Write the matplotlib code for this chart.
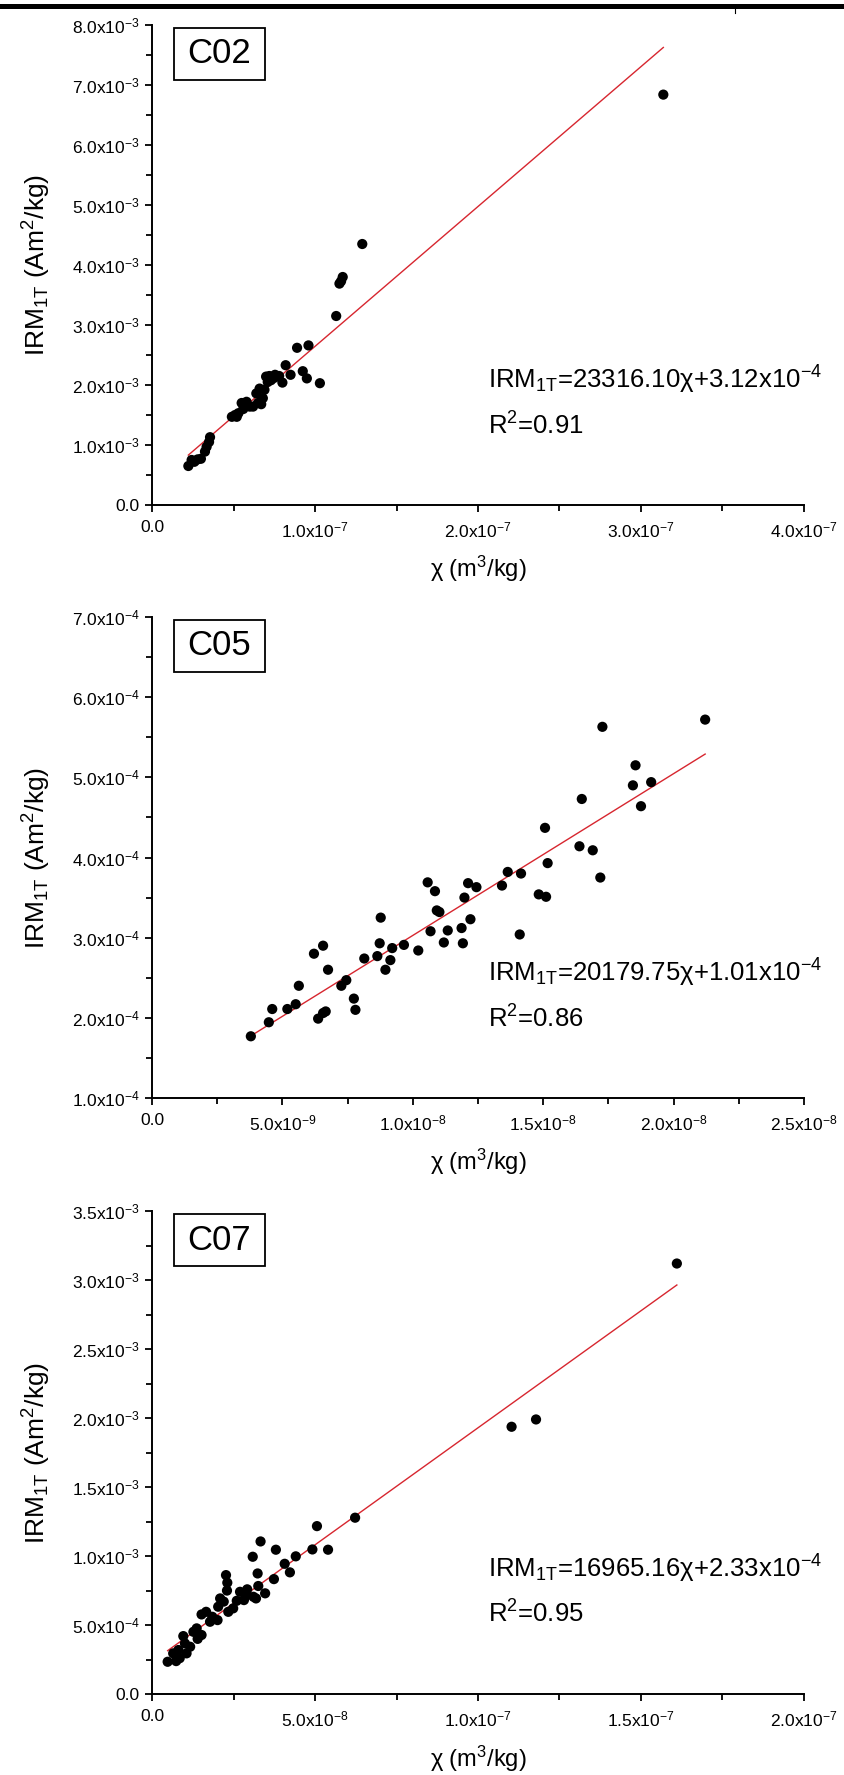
import numpy as np
import matplotlib
matplotlib.use('Agg')
import matplotlib.pyplot as plt
from matplotlib.patches import Rectangle
from matplotlib.lines import Line2D
from matplotlib.ticker import MultipleLocator, FuncFormatter

plt.rcParams['font.family'] = ['Liberation Sans', 'DejaVu Sans']
plt.rcParams['mathtext.default'] = 'regular'

# C02: chi in 1e-7 m3/kg, IRM in 1e-3 Am2/kg
c02_chi = [0.223, 0.243, 0.26, 0.28, 0.30, 0.325, 0.335, 0.35, 0.356, 0.49, 0.51, 0.52,
           0.53, 0.55, 0.56, 0.57, 0.58, 0.60, 0.62, 0.65, 0.64, 0.66, 0.67, 0.68, 0.69,
           0.70, 0.71, 0.72, 0.73, 0.75, 0.755, 0.78, 0.80, 0.82, 0.85, 0.89, 0.96, 0.925,
           0.95, 1.03, 1.13, 1.15, 1.16, 1.17, 1.29, 3.137]
c02_irm = [0.65, 0.75, 0.72, 0.76, 0.77, 0.89, 0.97, 1.05, 1.13, 1.47, 1.50, 1.47,
           1.53, 1.70, 1.60, 1.68, 1.72, 1.64, 1.64, 1.70, 1.86, 1.94, 1.68, 1.78, 1.92,
           2.14, 2.05, 2.15, 2.08, 2.12, 2.17, 2.15, 2.04, 2.33, 2.17, 2.62, 2.66, 2.23,
           2.11, 2.03, 3.15, 3.69, 3.73, 3.80, 4.35, 6.84]

# C05: chi in 1e-8 m3/kg, IRM in 1e-4 Am2/kg
c05_chi = [0.379, 0.448, 0.461, 0.519, 0.551, 0.563, 0.637, 0.656, 0.666, 0.621, 0.656,
           0.675, 0.726, 0.745, 0.774, 0.780, 0.814, 0.864, 0.873, 0.877, 0.895, 0.914,
           0.921, 0.966, 1.021, 1.057, 1.085, 1.068, 1.092, 1.102, 1.119, 1.134, 1.187,
           1.192, 1.198, 1.212, 1.221, 1.244, 1.342, 1.364, 1.415, 1.410, 1.483, 1.511,
           1.517, 1.507, 1.639, 1.690, 1.719, 1.648, 1.727, 1.844, 1.854, 1.875, 1.914, 2.121]
c05_irm = [1.77, 1.945, 2.11, 2.11, 2.17, 2.40, 1.99, 2.06, 2.08, 2.80, 2.90,
           2.60, 2.40, 2.47, 2.24, 2.10, 2.74, 2.77, 2.93, 3.25, 2.60, 2.72,
           2.87, 2.91, 2.84, 3.69, 3.58, 3.08, 3.34, 3.32, 2.94, 3.09, 3.12,
           2.93, 3.50, 3.68, 3.23, 3.63, 3.65, 3.82, 3.80, 3.04, 3.54, 3.51,
           3.93, 4.37, 4.14, 4.09, 3.75, 4.73, 5.63, 4.90, 5.15, 4.64, 4.94, 5.72]

# C07: chi in 1e-7 m3/kg, IRM in 1e-3 Am2/kg
c07_chi = [0.048, 0.074, 0.065, 0.081, 0.085, 0.096, 0.106, 0.117, 0.101, 0.127, 0.137,
           0.14, 0.152, 0.152, 0.166, 0.178, 0.185, 0.201, 0.203, 0.209, 0.227, 0.231,
           0.230, 0.220, 0.234, 0.249, 0.260, 0.270, 0.282, 0.29, 0.292, 0.311, 0.319,
           0.324, 0.326, 0.309, 0.333, 0.347, 0.374, 0.380, 0.407, 0.423, 0.441, 0.492,
           0.506, 0.540, 0.623, 1.103, 1.178, 1.61]
c07_irm = [0.234, 0.239, 0.295, 0.319, 0.26, 0.420, 0.295, 0.343, 0.367, 0.451, 0.476,
           0.40, 0.428, 0.577, 0.596, 0.524, 0.56, 0.536, 0.633, 0.693, 0.862, 0.807,
           0.750, 0.670, 0.596, 0.621, 0.676, 0.741, 0.681, 0.72, 0.759, 0.705, 0.693,
           0.874, 0.783, 0.995, 1.106, 0.730, 0.833, 1.046, 0.944, 0.882, 0.998, 1.048,
           1.217, 1.046, 1.278, 1.937, 1.990, 3.12]

panels = [
    dict(name='C02', chi=c02_chi, chi_unit=1e-7, irm=c02_irm, irm_unit=1e-3,
         slope=23316.10, icpt=3.12e-4, r2='0.91',
         eq=r'IRM$_{1T}$=23316.10$\chi$+3.12x10$^{-4}$',
         xlim=(0, 4e-7), xmaj=1e-7, ylim=(0, 8e-3), ymaj=1e-3,
         rect=[0.1801, 0.7155, 0.7725, 0.2704]),
    dict(name='C05', chi=c05_chi, chi_unit=1e-8, irm=c05_irm, irm_unit=1e-4,
         slope=20179.75, icpt=1.01e-4, r2='0.86',
         eq=r'IRM$_{1T}$=20179.75$\chi$+1.01x10$^{-4}$',
         xlim=(0, 2.5e-8), xmaj=5e-9, ylim=(1e-4, 7e-4), ymaj=1e-4,
         rect=[0.1801, 0.3814, 0.7725, 0.2710]),
    dict(name='C07', chi=c07_chi, chi_unit=1e-7, irm=c07_irm, irm_unit=1e-3,
         slope=16965.16, icpt=2.33e-4, r2='0.95',
         eq=r'IRM$_{1T}$=16965.16$\chi$+2.33x10$^{-4}$',
         xlim=(0, 2e-7), xmaj=5e-8, ylim=(0, 3.5e-3), ymaj=5e-4,
         rect=[0.1801, 0.0456, 0.7725, 0.2721]),
]


def sci_label(v, pos=None):
    if abs(v) < 1e-20:
        return '0.0'
    e = int(np.floor(np.log10(abs(v)) + 1e-9))
    m = v / 10.0 ** e
    return '%.1fx10$^{%d}$' % (m, e)


fig = plt.figure(figsize=(8.44, 17.75), dpi=100)

# page rule along the top edge
fig.add_artist(Rectangle((0, 1 - 8.5 / 1775), 1, 4.5 / 1775, transform=fig.transFigure,
                         color='black', lw=0))
fig.add_artist(Line2D([735 / 844, 735 / 844], [1 - 8.5 / 1775, 1 - 13 / 1775],
                      transform=fig.transFigure, color='black', lw=0.8))

for p in panels:
    ax = fig.add_axes(p['rect'])
    x = np.array(p['chi']) * p['chi_unit']
    y = np.array(p['irm']) * p['irm_unit']

    ax.scatter(x, y, s=54, color='black', edgecolors='none', zorder=3)

    xf = np.array([x.min(), x.max()])
    ax.plot(xf, p['slope'] * xf + p['icpt'], color='#d7262f', lw=1.0, zorder=2)

    ax.set_xlim(*p['xlim'])
    ax.set_ylim(*p['ylim'])
    ax.xaxis.set_major_locator(MultipleLocator(p['xmaj']))
    ax.xaxis.set_minor_locator(MultipleLocator(p['xmaj'] / 2))
    ax.yaxis.set_major_locator(MultipleLocator(p['ymaj']))
    ax.yaxis.set_minor_locator(MultipleLocator(p['ymaj'] / 2))
    ax.xaxis.set_major_formatter(FuncFormatter(sci_label))
    ax.yaxis.set_major_formatter(FuncFormatter(sci_label))

    for side in ['top', 'right']:
        ax.spines[side].set_visible(False)
    for side in ['left', 'bottom']:
        ax.spines[side].set_linewidth(1.4)
    ax.tick_params(which='major', direction='out', length=5, width=1.3,
                   labelsize=12.5, pad=4)
    ax.tick_params(which='minor', direction='out', length=4, width=1.3)
    ax.tick_params(axis='x', which='major', pad=6)

    ax.set_xlabel(r'$\chi$ (m$^3$/kg)', fontsize=17, va='center')
    ax.xaxis.set_label_coords(0.5, -64 / 480)
    ax.set_ylabel(r'IRM$_{1T}$ (Am$^2$/kg)', fontsize=19, va='center')
    ax.yaxis.set_label_coords(-0.177, 0.5)

    # sample name box
    ax.add_patch(Rectangle((0.034, 0.886), 0.139, 0.108, transform=ax.transAxes,
                           fill=False, edgecolor='black', lw=1.3, clip_on=False))
    ax.text(0.1035, 0.94, p['name'], transform=ax.transAxes, ha='center', va='center',
            fontsize=25)

    ax.text(0.515, 0.26, p['eq'], transform=ax.transAxes, ha='left', va='center',
            fontsize=18.5)
    ax.text(0.515, 0.165, r'R$^2$=' + p['r2'], transform=ax.transAxes, ha='left',
            va='center', fontsize=18.5)

fig.savefig('out.png', dpi=100)
